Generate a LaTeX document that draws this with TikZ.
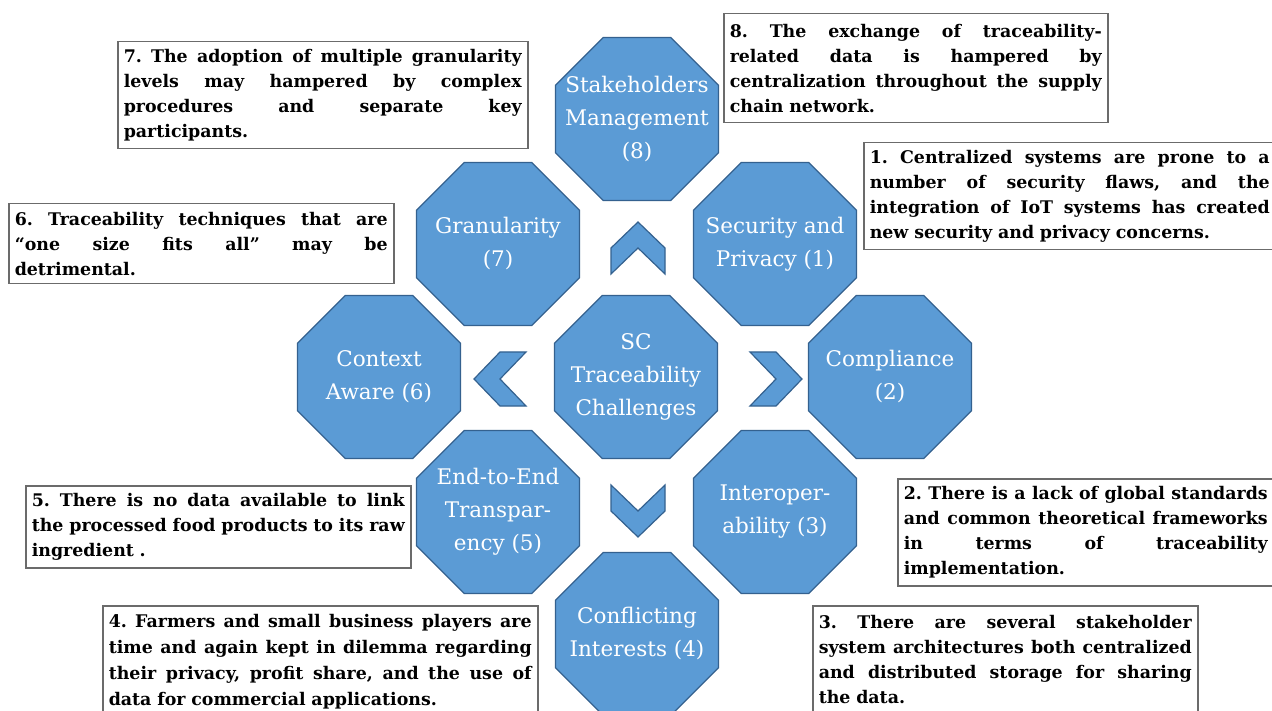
\documentclass[tikz,border=0pt]{standalone}
\usepackage{fontspec}
\setmainfont{DejaVu Serif}
\usetikzlibrary{shapes.geometric}
\definecolor{octfill}{HTML}{5B9BD5}
\definecolor{octline}{HTML}{34618F}
\definecolor{boxline}{HTML}{6B6B6B}
\newcommand{\jl}[1]{\leavevmode\hbox to \bw{\spaceskip=0.33em plus 1fil\relax\xspaceskip=\spaceskip #1}\\}
\tikzset{
  oct/.style={regular polygon, regular polygon sides=8, minimum size=176.4pt,
    inner sep=0pt, draw=octline, fill=octfill, line width=1.2pt},
  octlbl/.style={text=white, align=center, inner sep=0pt,
    font=\fontsize{21.5}{33}\selectfont},
  chev/.style={draw=octline, fill=octfill, line width=1.2pt, line join=miter},
  tbox/.style={draw=boxline, line width=1.5pt, fill=white, anchor=north west,
    inner xsep=6pt, inner ysep=0pt, align=left, text=black,
    text width=#1, execute at begin node={\def\bw{#1}\frenchspacing},
    font=\bfseries\fontsize{17.4}{25}\selectfont},
}
\begin{document}
\begin{tikzpicture}[x=1pt,y=-1pt]
\clip (0,0) rectangle (1272,711);
\fill[white] (0,0) rectangle (1272,711);
% octagons
\node[oct, label={[octlbl]center:{SC\\Traceability\\Challenges}}] (c) at (636,377) {};
\node[oct, label={[octlbl]center:{Stakeholders\\Management\\(8)}}] (n8) at (637,119) {};
\node[oct, label={[octlbl]center:{Security and\\Privacy (1)}}] (n1) at (775,244) {};
\node[oct, label={[octlbl]center:{Compliance\\(2)}}] (n2) at (890,377) {};
\node[oct, label={[octlbl]center:{Interoper-\\ability (3)}}] (n3) at (775,512) {};
\node[oct, label={[octlbl]center:{Conflicting\\Interests (4)}}] (n4) at (637,634) {};
\node[oct, label={[octlbl]center:{End-to-End\\Transpar-\\ency (5)}}] (n5) at (498,512) {};
\node[oct, label={[octlbl]center:{Context\\Aware (6)}}] (n6) at (379,377) {};
\node[oct, label={[octlbl]center:{Granularity\\(7)}}] (n7) at (498,244) {};
% chevrons
\draw[chev, shift={(638,248)}] (-27,26) -- (0,0) -- (27,26) -- (27,0) -- (0,-26) -- (-27,0) -- cycle;
\draw[chev, shift={(776,379)}] (-26,-27) -- (0,0) -- (-26,27) -- (0,27) -- (26,0) -- (0,-27) -- cycle;
\draw[chev, shift={(638,511)}] (-27,-26) -- (0,0) -- (27,-26) -- (27,0) -- (0,26) -- (-27,0) -- cycle;
\draw[chev, shift={(500,379)}] (26,-27) -- (0,0) -- (26,27) -- (0,27) -- (-26,0) -- (0,-27) -- cycle;
% text boxes
\node[tbox=398pt, minimum height=107pt] (b7) at (117,41) {%
\jl{7. The adoption of multiple granularity}\jl{levels may hampered by complex}\jl{procedures and separate key}participants.};
\node[tbox=372pt, minimum height=109pt] (b8) at (723,13) {%
\jl{8. The exchange of traceability-}\jl{related data is hampered by}\jl{centralization throughout the supply}chain network.};
\node[tbox=400pt, minimum height=107pt] (b1) at (863,142) {%
\jl{1. Centralized systems are prone to a}\jl{number of security flaws, and the}\jl{integration of IoT systems has created}new security and privacy concerns.};
\node[tbox=364pt, minimum height=107pt] (b2) at (897,478) {%
\jl{2. There is a lack of global standards}\jl{and common theoretical frameworks}\jl{in terms of traceability}implementation.};
\node[tbox=373pt, minimum height=80pt] (b6) at (8,203) {%
\jl{6. Traceability techniques that are}\jl{“one size fits all” may be}detrimental.};
\node[tbox=373pt, minimum height=82pt] (b5) at (25,485) {%
\jl{5. There is no data available to link}\jl{the processed food products to its raw}ingredient .};
\node[tbox=423pt, minimum height=112pt, font=\bfseries\fontsize{17.4}{26}\selectfont] (b4) at (102,605) {%
\jl{4. Farmers and small business players are}\jl{time and again kept in dilemma regarding}\jl{their privacy, profit share, and the use of}data for commercial applications.};
\node[tbox=373pt, minimum height=108pt] (b3) at (812,605) {%
\jl{3. There are several stakeholder}\jl{system architectures both centralized}\jl{and distributed storage for sharing}the data.};
\end{tikzpicture}
\end{document}
